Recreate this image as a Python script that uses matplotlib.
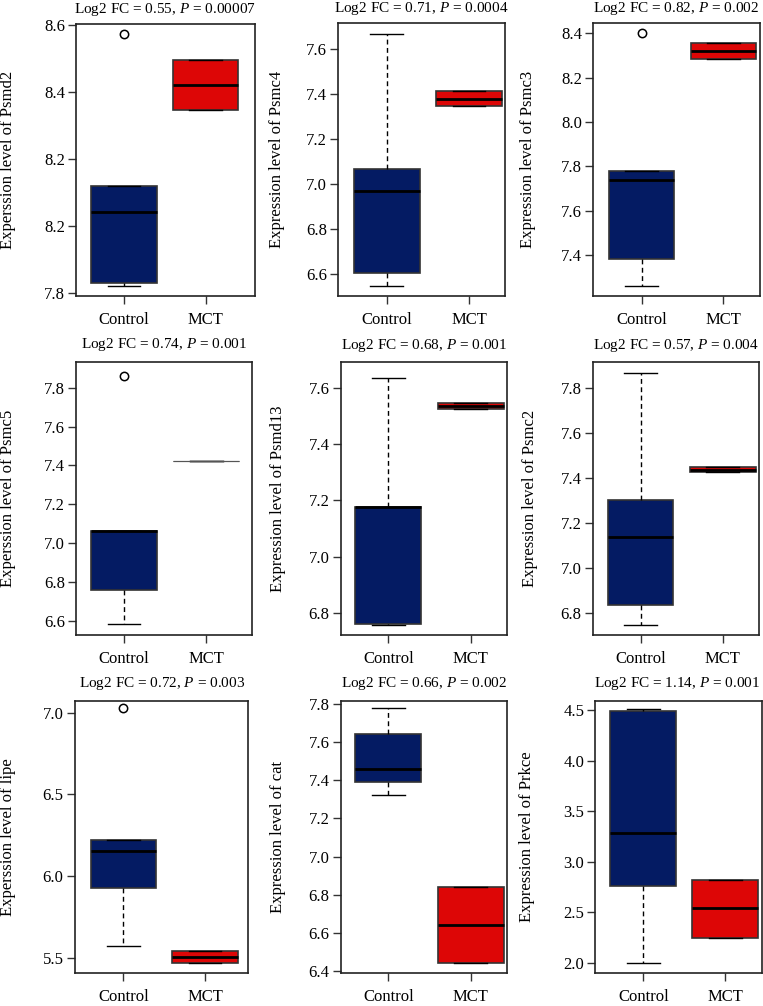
import matplotlib
matplotlib.use("Agg")
import matplotlib.pyplot as plt

plt.rcParams['font.family'] = ['Liberation Serif', 'DejaVu Serif']
plt.rcParams['mathtext.fontset'] = 'custom'
plt.rcParams['mathtext.rm'] = 'Liberation Serif'
plt.rcParams['mathtext.it'] = 'Liberation Serif:italic'

# ---------------- data ----------------
groups = ["Control", "MCT"]
genes = ["Psmd2", "Psmc4", "Psmc3", "Psmc5", "Psmd13", "Psmc2", "lipe", "cat", "Prkce"]
label_words = ["Experssion", "Expression", "Expression",
               "Experssion", "Expression", "Expression",
               "Experssion", "Expression", "Expression"]
log2fc = ["0.55", "0.71", "0.82", "0.74", "0.68", "0.57", "0.72", "0.66", "1.14"]
pvals = ["0.00007", "0.0004", "0.002", "0.001", "0.001", "0.004", "0.003", "0.002", "0.001"]

# Control group box statistics
ctrl_whislo = [7.821, 6.548, 7.260, 6.582, 6.757, 6.748, 5.573, 7.324, 1.995]
ctrl_q1     = [7.831, 6.607, 7.381, 6.760, 6.762, 6.835, 5.928, 7.391, 2.759]
ctrl_med    = [8.043, 6.970, 7.740, 7.062, 7.176, 7.138, 6.155, 7.458, 3.286]
ctrl_q3     = [8.120, 7.066, 7.780, 7.064, 7.178, 7.301, 6.220, 7.643, 4.493]
ctrl_whishi = [8.120, 7.667, 7.780, 7.064, 7.635, 7.866, 6.220, 7.777, 4.510]
ctrl_fliers = [[8.574], [], [8.403], [7.860], [], [], [7.027], [], []]

# MCT group box statistics
mct_whislo = [8.347, 7.346, 8.285, 7.423, 7.526, 7.428, 5.469, 6.440, 2.248]
mct_q1     = [8.347, 7.346, 8.285, 7.423, 7.526, 7.428, 5.469, 6.440, 2.248]
mct_med    = [8.421, 7.379, 8.320, 7.423, 7.535, 7.434, 5.506, 6.643, 2.539]
mct_q3     = [8.495, 7.415, 8.355, 7.423, 7.547, 7.450, 5.543, 6.842, 2.822]
mct_whishi = [8.495, 7.415, 8.355, 7.423, 7.547, 7.450, 5.543, 6.842, 2.822]

# y ticks and tick labels
yticks = [
    [7.8, 8.0, 8.2, 8.4, 8.6],
    [6.6, 6.8, 7.0, 7.2, 7.4, 7.6],
    [7.4, 7.6, 7.8, 8.0, 8.2, 8.4],
    [6.6, 6.8, 7.0, 7.2, 7.4, 7.6, 7.8],
    [6.8, 7.0, 7.2, 7.4, 7.6],
    [6.8, 7.0, 7.2, 7.4, 7.6, 7.8],
    [5.5, 6.0, 6.5, 7.0],
    [6.4, 6.6, 6.8, 7.0, 7.2, 7.4, 7.6, 7.8],
    [2.0, 2.5, 3.0, 3.5, 4.0, 4.5],
]
yticklabels = [
    ["7.8", "8.2", "8.2", "8.4", "8.6"],
    ["6.6", "6.8", "7.0", "7.2", "7.4", "7.6"],
    ["7.4", "7.6", "7.8", "8.0", "8.2", "8.4"],
    ["6.6", "6.8", "7.0", "7.2", "7.4", "7.6", "7.8"],
    ["6.8", "7.0", "7.2", "7.4", "7.6"],
    ["6.8", "7.0", "7.2", "7.4", "7.6", "7.8"],
    ["5.5", "6.0", "6.5", "7.0"],
    ["6.4", "6.6", "6.8", "7.0", "7.2", "7.4", "7.6", "7.8"],
    ["2.0", "2.5", "3.0", "3.5", "4.0", "4.5"],
]

# ---------------- layout ----------------
W, H = 763, 1006
# axes rectangles in pixels: left, top, right, bottom
rects = [
    (76, 24, 255, 296), (338.3, 23.3, 505, 296), (593.3, 23.3, 760, 296),
    (76, 361.7, 251.7, 635), (340.7, 362.3, 506.7, 635), (592.7, 362.3, 759.3, 635),
    (74.7, 700.7, 248.3, 973.3), (340.7, 700.7, 507.3, 973.3), (595.3, 700.7, 761.7, 973.3),
]
xlims = [(0.412, 2.603), (0.412, 2.437), (0.407, 2.45),
         (0.417, 2.552), (0.422, 2.437), (0.415, 2.446),
         (0.405, 2.53), (0.422, 2.444), (0.415, 2.444)]
ylims = [(7.791, 8.603), (6.504, 7.714), (7.215, 8.445),
         (6.527, 7.934), (6.723, 7.690), (6.704, 7.913),
         (5.404, 7.073), (6.388, 7.817), (1.896, 4.592)]
ylabel_x = [8, 276.7, 528, 8, 278, 530, 8, 278, 527]
title_gap = [15, 15, 15, 17, 17, 17, 17, 17, 17]
title_x = [165, 421, 676, 164, 424, 676, 162, 424, 677]

BLUE = "#041B63"
RED = "#DD0606"

fig = plt.figure(figsize=(W / 100, H / 100), dpi=100)

for i in range(9):
    l, t, r, b = rects[i]
    ax = fig.add_axes([l / W, 1 - b / H, (r - l) / W, (b - t) / H])
    stats = [
        dict(whislo=ctrl_whislo[i], q1=ctrl_q1[i], med=ctrl_med[i], q3=ctrl_q3[i],
             whishi=ctrl_whishi[i], fliers=ctrl_fliers[i], label=groups[0]),
        dict(whislo=mct_whislo[i], q1=mct_q1[i], med=mct_med[i], q3=mct_q3[i],
             whishi=mct_whishi[i], fliers=[], label=groups[1]),
    ]
    bp = ax.bxp(stats, positions=[1, 2], widths=0.8, patch_artist=True,
                showfliers=True, capwidths=0.4,
                boxprops=dict(edgecolor="#333333", linewidth=1.2),
                medianprops=dict(color="black", linewidth=2.0),
                whiskerprops=dict(color="black", linewidth=1.0, linestyle=(0, (3.5, 2.5))),
                capprops=dict(color="black", linewidth=1.0),
                flierprops=dict(marker='o', markerfacecolor='none', markeredgecolor='black',
                                markersize=6, markeredgewidth=1.1))
    bp['boxes'][0].set_facecolor(BLUE)
    bp['boxes'][1].set_facecolor(RED)
    if mct_q1[i] == mct_q3[i]:
        bp['boxes'][1].set_edgecolor("#555555")
        bp['boxes'][1].set_linewidth(0.8)
        bp['medians'][1].set_color("#555555")
        bp['medians'][1].set_linewidth(0.8)

    ax.set_xlim(*xlims[i])
    ax.set_ylim(*ylims[i])
    ax.set_xticks([1, 2])
    ax.set_xticklabels(groups, fontsize=12)
    ax.set_yticks(yticks[i])
    ax.set_yticklabels(yticklabels[i], fontsize=12)
    ax.tick_params(axis='x', length=6, width=1.0, pad=5.5, color="#333333")
    ax.tick_params(axis='y', length=6, width=1.0, pad=2, color="#333333")
    for sp in ax.spines.values():
        sp.set_color("#222222")
        sp.set_linewidth(1.2)

    # title
    fig.text(title_x[i] / W, 1 - (t - title_gap[i]) / H,
             f"Log2 FC = {log2fc[i]}, $P$ = {pvals[i]}",
             ha='center', va='center', fontsize=11)
    # y label
    fig.text(ylabel_x[i] / W, 1 - ((t + b) / 2) / H,
             f"{label_words[i]} level of {genes[i]}",
             rotation=90, ha='center', va='center', fontsize=12)

fig.savefig("out.png", dpi=100)
